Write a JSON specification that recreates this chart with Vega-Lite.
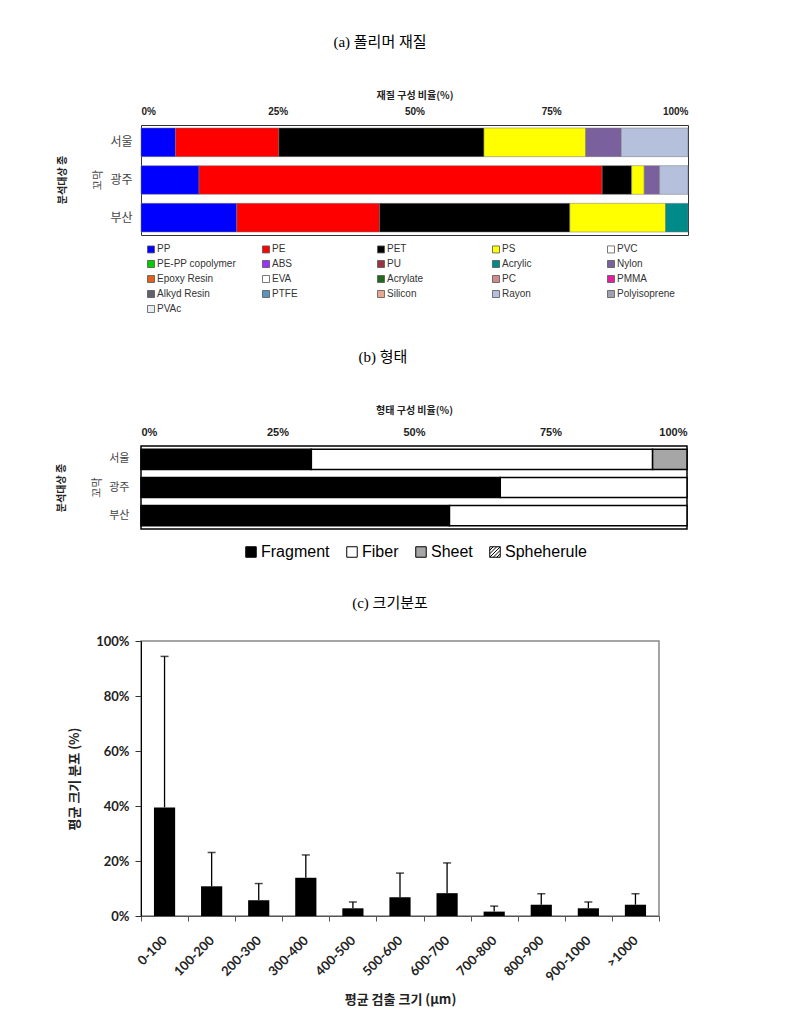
{
  "$schema": "https://vega.github.io/schema/vega-lite/v6.json",
  "background": "white",
  "padding": {"top": 35, "left": 57, "right": 10, "bottom": 10},
  "spacing": 35,
  "resolve": {"scale": {"color": "independent", "x": "independent", "y": "independent"}, "legend": {"color": "independent"}},
  "vconcat": [
    {
      "title": {"text": "(a) 폴리머 재질", "font": "Liberation Serif, Noto Sans CJK KR", "fontSize": 15, "fontWeight": "normal", "color": "#000", "offset": 40, "anchor": "middle", "frame": "group", "dx": 239},
      "data": {"values": [
        {"species": "꼬막", "city": "서울", "no": 1, "polymer": "PP", "pct": 6.3},
        {"species": "꼬막", "city": "서울", "no": 2, "polymer": "PE", "pct": 18.9},
        {"species": "꼬막", "city": "서울", "no": 3, "polymer": "PET", "pct": 37.5},
        {"species": "꼬막", "city": "서울", "no": 4, "polymer": "PS", "pct": 18.6},
        {"species": "꼬막", "city": "서울", "no": 10, "polymer": "Nylon", "pct": 6.5},
        {"species": "꼬막", "city": "서울", "no": 19, "polymer": "Rayon", "pct": 12.2},
        {"species": "꼬막", "city": "광주", "no": 1, "polymer": "PP", "pct": 10.6},
        {"species": "꼬막", "city": "광주", "no": 2, "polymer": "PE", "pct": 73.7},
        {"species": "꼬막", "city": "광주", "no": 3, "polymer": "PET", "pct": 5.4},
        {"species": "꼬막", "city": "광주", "no": 4, "polymer": "PS", "pct": 2.3},
        {"species": "꼬막", "city": "광주", "no": 10, "polymer": "Nylon", "pct": 2.8},
        {"species": "꼬막", "city": "광주", "no": 19, "polymer": "Rayon", "pct": 5.2},
        {"species": "꼬막", "city": "부산", "no": 1, "polymer": "PP", "pct": 17.5},
        {"species": "꼬막", "city": "부산", "no": 2, "polymer": "PE", "pct": 26.1},
        {"species": "꼬막", "city": "부산", "no": 3, "polymer": "PET", "pct": 34.8},
        {"species": "꼬막", "city": "부산", "no": 4, "polymer": "PS", "pct": 17.5},
        {"species": "꼬막", "city": "부산", "no": 9, "polymer": "Acrylic", "pct": 4.1}
      ]},
      "facet": {"row": {"field": "species", "type": "nominal", "header": {
        "title": "분석대상 종", "titleFont": "Noto Sans CJK KR", "titleFontSize": 10, "titleFontWeight": "bold", "titleColor": "#222", "titleAngle": -90, "titlePadding": 4,
        "labelAngle": -90, "labelFont": "Noto Sans CJK KR", "labelFontSize": 11, "labelColor": "#444", "labelPadding": 0}}},
      "spec": {
        "width": 547, "height": 110,
        "view": {"stroke": "#333", "strokeWidth": 1},
        "mark": {"type": "bar", "stroke": "#777", "strokeWidth": 0.5},
        "encoding": {
          "y": {"field": "city", "type": "nominal", "sort": ["서울", "광주", "부산"],
            "scale": {"paddingInner": 0.24, "paddingOuter": 0.08},
            "axis": {"title": null, "ticks": false, "domain": false, "labelPadding": 8, "labelFont": "Noto Sans CJK KR", "labelFontSize": 12, "labelColor": "#444"}},
          "x": {"field": "pct", "type": "quantitative", "stack": "zero",
            "scale": {"domain": [0, 100], "nice": false},
            "axis": {"orient": "top", "values": [0, 25, 50, 75, 100], "labelExpr": "datum.value + '%'", "grid": false, "domain": false, "ticks": false,
              "labelFont": "Liberation Sans", "labelFontSize": 10, "labelFontWeight": "bold", "labelColor": "#222", "labelPadding": 8,
              "title": "재질 구성 비율(%)", "titleFont": "Noto Sans CJK KR", "titleFontSize": 10, "titleFontWeight": "bold", "titleColor": "#222", "titlePadding": 6}},
          "order": {"field": "no", "type": "quantitative", "sort": "ascending"},
          "color": {"field": "polymer", "type": "nominal",
            "scale": {
              "domain": ["PP", "PE", "PET", "PS", "PVC", "PE-PP copolymer", "ABS", "PU", "Acrylic", "Nylon", "Epoxy Resin", "EVA", "Acrylate", "PC", "PMMA", "Alkyd Resin", "PTFE", "Silicon", "Rayon", "Polyisoprene", "PVAc"],
              "range": ["#0000FF", "#FF0000", "#000000", "#FFFF00", "#FFFFFF", "#00CC00", "#9933FF", "#993344", "#008B8B", "#7B609E", "#E0601C", "#FFFFFF", "#1E6B1E", "#D08A8A", "#E020A0", "#606070", "#5C94C0", "#E8A890", "#B4C0DC", "#A0A0B0", "#E8ECF4"]},
            "legend": {"orient": "none", "legendX": 5, "legendY": 119, "direction": "horizontal", "columns": 5, "title": null, "symbolType": "square", "symbolSize": 49,
              "symbolStrokeColor": "#555", "symbolStrokeWidth": 0.8, "labelFont": "Liberation Sans", "labelFontSize": 10, "labelColor": "#333",
              "columnPadding": 24, "rowPadding": 3, "gridAlign": "all", "labelOffset": 1, "labelLimit": 200}}
        }
      }
    },
    {
      "title": {"text": "(b) 형태", "font": "Liberation Serif, Noto Sans CJK KR", "fontSize": 15, "fontWeight": "normal", "color": "#000", "offset": 40, "anchor": "middle", "frame": "group", "dx": 242},
      "data": {"values": [
        {"species": "꼬막", "city": "서울", "no": 1, "shape": "Fragment", "pct": 31.2},
        {"species": "꼬막", "city": "서울", "no": 2, "shape": "Fiber", "pct": 62.5},
        {"species": "꼬막", "city": "서울", "no": 3, "shape": "Sheet", "pct": 6.3},
        {"species": "꼬막", "city": "광주", "no": 1, "shape": "Fragment", "pct": 65.8},
        {"species": "꼬막", "city": "광주", "no": 2, "shape": "Fiber", "pct": 34.2},
        {"species": "꼬막", "city": "부산", "no": 1, "shape": "Fragment", "pct": 56.5},
        {"species": "꼬막", "city": "부산", "no": 2, "shape": "Fiber", "pct": 43.5}
      ]},
      "facet": {"row": {"field": "species", "type": "nominal", "header": {
        "title": "분석대상 종", "titleFont": "Noto Sans CJK KR", "titleFontSize": 10, "titleFontWeight": "bold", "titleColor": "#222", "titleAngle": -90, "titlePadding": 4,
        "labelAngle": -90, "labelFont": "Noto Sans CJK KR", "labelFontSize": 11, "labelColor": "#444", "labelPadding": 0}}},
      "spec": {
        "width": 546, "height": 83,
        "view": {"stroke": "#000", "strokeWidth": 1.5},
        "mark": {"type": "bar", "stroke": "#000", "strokeWidth": 1.5},
        "encoding": {
          "y": {"field": "city", "type": "nominal", "sort": ["서울", "광주", "부산"],
            "scale": {"paddingInner": 0.28, "paddingOuter": 0.12},
            "axis": {"title": null, "ticks": false, "domain": false, "labelPadding": 10, "labelFont": "Noto Sans CJK KR", "labelFontSize": 11, "labelColor": "#444"}},
          "x": {"field": "pct", "type": "quantitative", "stack": "zero",
            "scale": {"domain": [0, 100], "nice": false},
            "axis": {"orient": "top", "values": [0, 25, 50, 75, 100], "labelExpr": "datum.value + '%'", "grid": false, "domain": false, "ticks": false,
              "labelFont": "Liberation Sans", "labelFontSize": 11, "labelFontWeight": "bold", "labelColor": "#222", "labelPadding": 8,
              "title": "형태 구성 비율(%)", "titleFont": "Noto Sans CJK KR", "titleFontSize": 10, "titleFontWeight": "bold", "titleColor": "#222", "titlePadding": 11}},
          "order": {"field": "no", "type": "quantitative", "sort": "ascending"},
          "color": {"field": "shape", "type": "nominal",
            "scale": {"domain": ["Fragment", "Fiber", "Sheet", "Spheherule"], "range": ["#000000", "#FFFFFF", "#A6A6A6", "#FFFFFF"]},
            "legend": {"orient": "none", "legendX": 102, "legendY": 98, "direction": "horizontal", "title": null, "symbolType": "square", "symbolSize": 110,
              "symbolStrokeColor": "#000", "symbolStrokeWidth": 1, "labelFont": "Liberation Sans", "labelFontSize": 16, "labelColor": "#000",
              "columnPadding": 14, "labelOffset": 2, "labelLimit": 200,
              "encode": {"symbols": {"update": {"shape": {"signal": "datum.label === 'Spheherule' ? 'M-1,-1H1V1H-1Z M-1,-0.33L-0.33,-1 M-1,0.33L0.33,-1 M-1,1L1,-1 M-0.33,1L1,-0.33 M0.33,1L1,0.33' : 'square'"}}}}}}
        }
      }
    },
    {
      "title": {"text": "(c) 크기분포", "font": "Liberation Serif, Noto Sans CJK KR", "fontSize": 15, "fontWeight": "normal", "color": "#000", "offset": 24, "anchor": "middle", "frame": "group", "dx": -10},
      "width": 518, "height": 275,
      "view": {"stroke": "#888", "strokeWidth": 1.5},
      "data": {"values": [
        {"size": "0-100", "mean": 0.395, "upper": 0.944},
        {"size": "100-200", "mean": 0.108, "upper": 0.231},
        {"size": "200-300", "mean": 0.057, "upper": 0.118},
        {"size": "300-400", "mean": 0.139, "upper": 0.222},
        {"size": "400-500", "mean": 0.028, "upper": 0.051},
        {"size": "500-600", "mean": 0.068, "upper": 0.156},
        {"size": "600-700", "mean": 0.083, "upper": 0.193},
        {"size": "700-800", "mean": 0.016, "upper": 0.036},
        {"size": "800-900", "mean": 0.041, "upper": 0.081},
        {"size": "900-1000", "mean": 0.028, "upper": 0.051},
        {"size": ">1000", "mean": 0.041, "upper": 0.081}
      ]},
      "encoding": {
        "x": {"field": "size", "type": "nominal", "sort": null,
          "scale": {"paddingInner": 0, "paddingOuter": 0},
          "axis": {"tickBand": "extent", "tickSize": 5, "tickColor": "#555", "domainColor": "#555", "labelAngle": -45, "labelAlign": "right", "labelBaseline": "middle", "labelPadding": 17,
            "labelFont": "Lato", "labelFontSize": 13, "labelFontWeight": "bold", "labelColor": "#222",
            "title": "평균 검출 크기 (μm)", "titleFont": "Noto Sans CJK KR", "titleFontSize": 13, "titleFontWeight": "bold", "titleColor": "#222", "titlePadding": 10}}
      },
      "layer": [
        {"mark": {"type": "bar", "color": "#000", "width": {"band": 0.45}},
          "encoding": {"y": {"field": "mean", "type": "quantitative", "scale": {"domain": [0, 1], "nice": false},
            "axis": {"values": [0, 0.2, 0.4, 0.6, 0.8, 1], "format": ".0%", "grid": false, "tickSize": 6, "tickColor": "#333", "domainColor": "#000", "labelPadding": 6,
              "labelFont": "Lato", "labelFontSize": 13, "labelFontWeight": "bold", "labelColor": "#222",
              "title": "평균 크기 분포 (%)", "titleFont": "Noto Sans CJK KR", "titleFontSize": 13, "titleFontWeight": "bold", "titleColor": "#222", "titlePadding": 14}}}},
        {"mark": {"type": "rule", "color": "#000", "strokeWidth": 1.3},
          "encoding": {"y": {"field": "mean", "type": "quantitative"}, "y2": {"field": "upper"}}},
        {"mark": {"type": "tick", "color": "#000", "thickness": 1.5, "size": 8, "orient": "horizontal"},
          "encoding": {"y": {"field": "upper", "type": "quantitative"}}}
      ]
    }
  ]
}
